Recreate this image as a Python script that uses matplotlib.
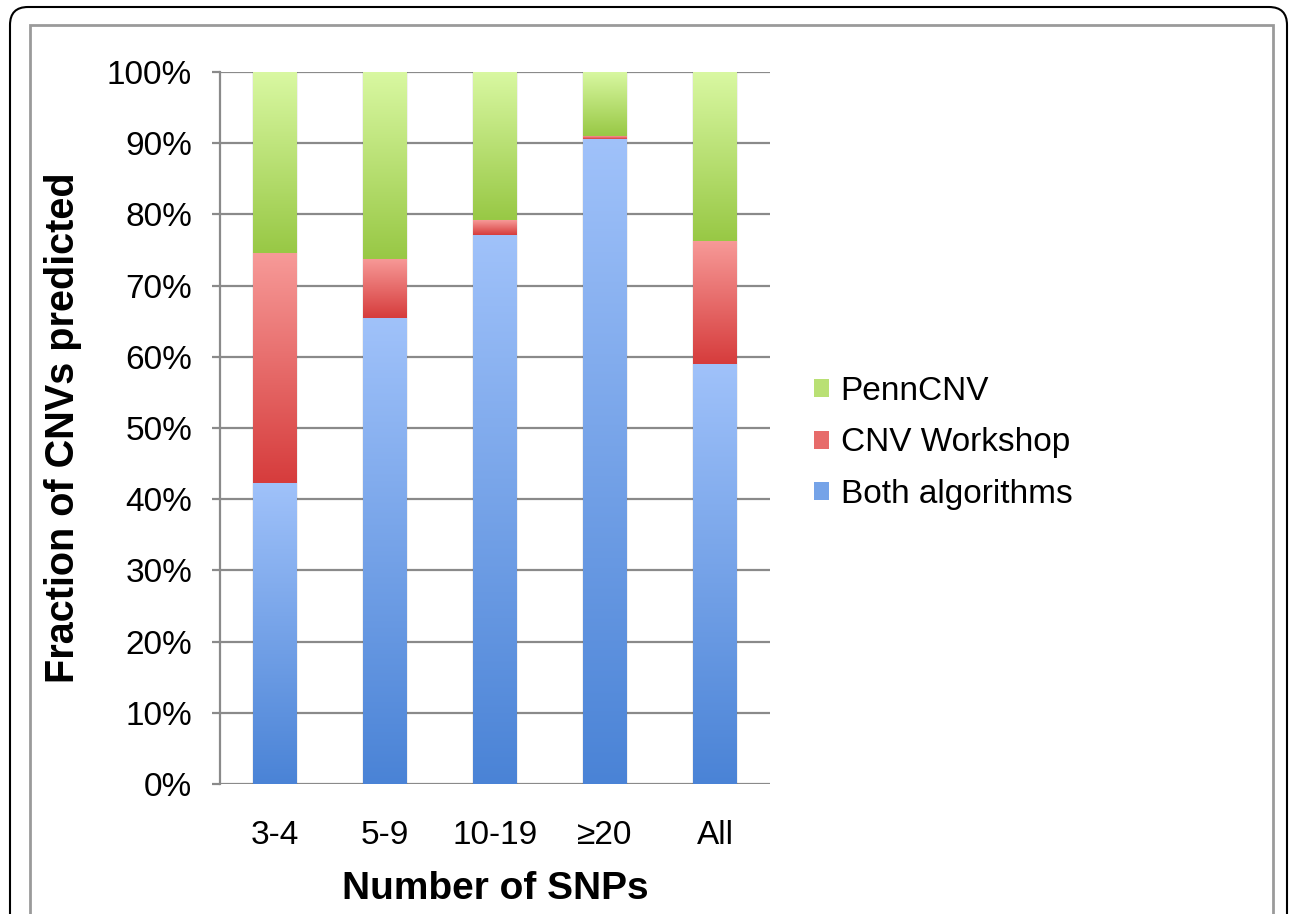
import numpy as np
import matplotlib
matplotlib.use("Agg")
import matplotlib.pyplot as plt
from matplotlib.colors import LinearSegmentedColormap
from matplotlib.patches import FancyBboxPatch, Rectangle
from matplotlib.transforms import IdentityTransform
from matplotlib.ticker import PercentFormatter

plt.rcParams['font.family'] = ['Liberation Sans', 'DejaVu Sans']

categories = ['3-4', '5-9', '10-19', '\u226520', 'All']
both = [42.3, 65.4, 77.1, 90.6, 59.0]
workshop = [32.3, 8.3, 2.1, 0.4, 17.3]
penncnv = [25.4, 26.3, 20.8, 9.0, 23.7]
series_names = ['Both algorithms', 'CNV Workshop', 'PennCNV']

# (dark bottom, light top) of each gradient
grad_colors = [('#4a83d6', '#a0c2fa'), ('#d63c3c', '#f79a98'), ('#98c845', '#d9f8a2')]

fig = plt.figure(figsize=(12.9, 9.14), dpi=100)
ax = fig.add_axes([220 / 1290, 1 - 784 / 914, 550 / 1290, 712 / 914])

x = np.arange(len(categories))
grad = np.linspace(0, 1, 256).reshape(-1, 1)
bottom = np.zeros(len(categories))
handles = []
for vals, name, (c0, c1) in zip([both, workshop, penncnv], series_names, grad_colors):
    cmap = LinearSegmentedColormap.from_list(name, [c0, c1])
    bars = ax.bar(x, vals, width=0.4, bottom=bottom, color='none', edgecolor='none', zorder=3)
    for rect in bars:
        x0, y0 = rect.get_x(), rect.get_y()
        w, h = rect.get_width(), rect.get_height()
        if h <= 0:
            continue
        # soft shadow
        ax.add_patch(Rectangle((x0 - 0.012, y0), w + 0.024, h, facecolor='#000000',
                               alpha=0.06, edgecolor='none', zorder=2))
        ax.imshow(grad, extent=[x0, x0 + w, y0, y0 + h], origin='lower', cmap=cmap,
                  aspect='auto', zorder=3, interpolation='bicubic')
    handles.append(Rectangle((0, 0), 1, 1, facecolor=cmap(0.5), edgecolor='none'))
    bottom = bottom + np.array(vals)

ax.set_xlim(-0.5, len(categories) - 0.5)
ax.set_ylim(0, 100)
ax.set_yticks(np.arange(0, 101, 10))
ax.yaxis.set_major_formatter(PercentFormatter(decimals=0))
ax.set_xticks(x)
ax.set_xticklabels(categories)
ax.grid(axis='y', color='#8a8a8a', linewidth=1.6, zorder=1)
ax.set_axisbelow(True)
for s in ['top', 'right', 'bottom']:
    ax.spines[s].set_visible(False)
ax.spines['left'].set_color('#8a8a8a')
ax.spines['left'].set_linewidth(1.6)
ax.tick_params(axis='y', length=6, width=1.6, color='#8a8a8a', pad=14, labelsize=24)
ax.tick_params(axis='x', length=0, pad=26, labelsize=24)

ax.set_ylabel('Fraction of CNVs predicted', fontsize=28.5, fontweight='bold', labelpad=18)
ax.set_xlabel('Number of SNPs', fontsize=28, fontweight='bold', labelpad=14)

leg = fig.legend(handles[::-1], series_names[::-1], loc='center left',
                 bbox_to_anchor=(784 / 1290, 1 - 443 / 914), frameon=False,
                 fontsize=24, handlelength=0.45, handleheight=0.45,
                 handletextpad=0.35, labelspacing=0.62)

# outer rounded frame and inner grey border
fig.add_artist(FancyBboxPatch((10, -40), 1277, 914 - 7 + 40,
                              boxstyle='round,pad=0,rounding_size=18',
                              transform=IdentityTransform(), fill=False,
                              edgecolor='black', linewidth=1.5))
fig.add_artist(Rectangle((30, -40), 1243, 914 - 25 + 40, transform=IdentityTransform(),
                         fill=False, edgecolor='#9a9a9a', linewidth=2))

fig.savefig('out.png', dpi=100)
